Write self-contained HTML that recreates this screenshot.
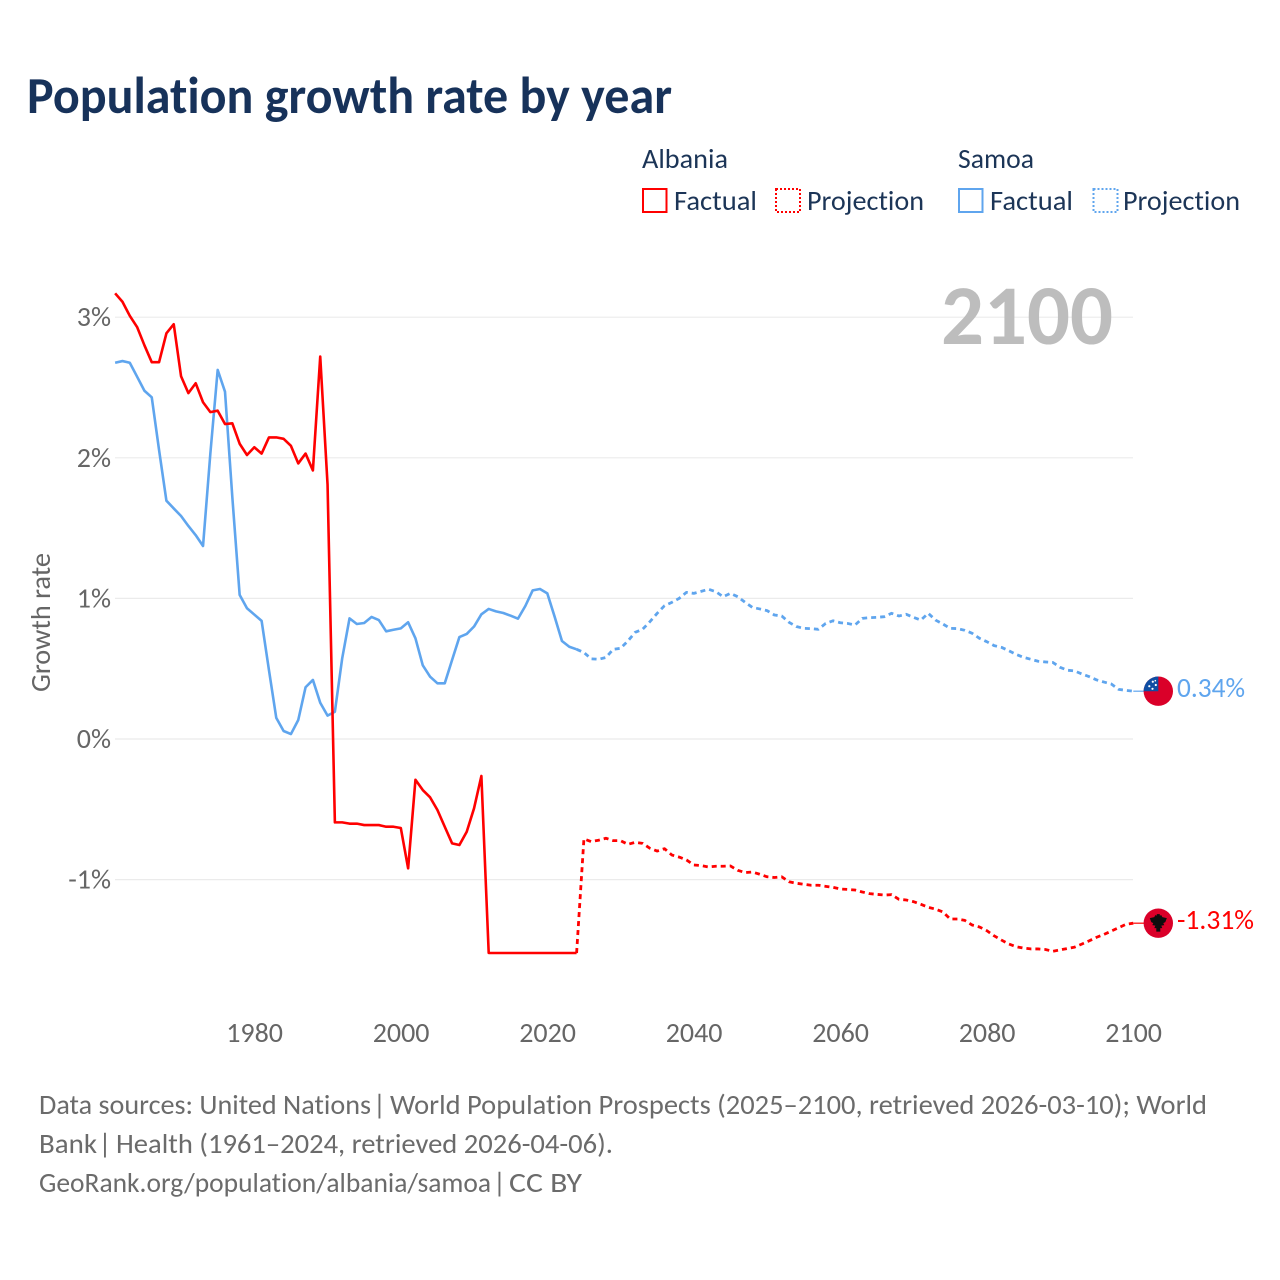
<!DOCTYPE html>
<html lang="en">
<head>
<meta charset="utf-8">
<title>Population growth rate by year</title>
<style>
html,body{margin:0;padding:0;background:#fff;}
svg{display:block;font-family:"Carlito","Lato","Liberation Sans",sans-serif;font-variant-ligatures:none;}
</style>
</head>
<body>
<svg id="chart" xmlns="http://www.w3.org/2000/svg" width="1280" height="1280" viewBox="0 0 1280 1280">
  <rect x="0" y="0" width="1280" height="1280" fill="#ffffff"/>
  <text x="27" y="113" font-size="51.5" font-weight="700" fill="#17325a" textLength="645" lengthAdjust="spacingAndGlyphs">Population growth rate by year</text>

  <g font-size="28" fill="#1c3557">
    <text x="642" y="168" textLength="86" lengthAdjust="spacingAndGlyphs">Albania</text>
    <text x="958" y="168" textLength="76" lengthAdjust="spacingAndGlyphs">Samoa</text>
    <g>
      <rect x="643" y="189" width="23.5" height="23" fill="none" stroke="#ff0000" stroke-width="2"/>
      <text x="674" y="210" textLength="83" lengthAdjust="spacingAndGlyphs">Factual</text>
    </g>
    <g>
      <rect x="776" y="189" width="24" height="23" fill="none" stroke="#ff0000" stroke-width="2" stroke-dasharray="2 2"/>
      <text x="807" y="210" textLength="117" lengthAdjust="spacingAndGlyphs">Projection</text>
    </g>
    <g>
      <rect x="959" y="189" width="23.5" height="23" fill="none" stroke="#5fa5ee" stroke-width="2"/>
      <text x="990" y="210" textLength="83" lengthAdjust="spacingAndGlyphs">Factual</text>
    </g>
    <g>
      <rect x="1093.5" y="189" width="24" height="23" fill="none" stroke="#5fa5ee" stroke-width="2" stroke-dasharray="2 2"/>
      <text x="1123" y="210" textLength="117" lengthAdjust="spacingAndGlyphs">Projection</text>
    </g>
  </g>

  <g id="grid"></g>
  <text x="941" y="344" font-size="85" font-weight="700" fill="#bdbdbd" textLength="172" lengthAdjust="spacingAndGlyphs">2100</text>
  <g id="yLabels" font-size="28" fill="#666666" text-anchor="end"></g>
  <g id="xLabels" font-size="28" fill="#666666" text-anchor="middle"></g>
  <text transform="translate(50 622.5) rotate(-90)" font-size="28" fill="#666666" text-anchor="middle" textLength="139" lengthAdjust="spacingAndGlyphs">Growth rate</text>

  <g id="series"></g>
  <g id="ends"></g>

  <g font-size="28" fill="#6b6b6b">
    <text y="1114"><tspan x="39" textLength="332" lengthAdjust="spacingAndGlyphs">Data sources: United Nations</tspan> <tspan x="373">|</tspan> <tspan x="390" textLength="817" lengthAdjust="spacingAndGlyphs">World Population Prospects (2025–2100, retrieved 2026-03-10); World</tspan></text>
    <text y="1153"><tspan x="39" textLength="58" lengthAdjust="spacingAndGlyphs">Bank</tspan> <tspan x="98.5">|</tspan> <tspan x="116" textLength="497" lengthAdjust="spacingAndGlyphs">Health (1961–2024, retrieved 2026-04-06).</tspan></text>
    <text y="1192"><tspan x="39" textLength="452" lengthAdjust="spacingAndGlyphs">GeoRank.org/population/albania/samoa</tspan> <tspan x="493">|</tspan> <tspan x="509" textLength="73" lengthAdjust="spacingAndGlyphs">CC BY</tspan></text>
  </g>
</svg>
<script>
const firstYear = 1961;
const projectionStartYear = 2025;
const yTicks = [3, 2, 1, 0, -1];
const xTicks = [1980, 2000, 2020, 2040, 2060, 2080, 2100];

const albaniaFactual = [
  3.17,3.11,3.01,2.93,2.80,2.68,2.68,2.885,2.95,2.58,
  2.46,2.53,2.395,2.325,2.335,2.24,2.245,2.10,2.02,2.075,
  2.03,2.145,2.145,2.135,2.085,1.96,2.03,1.91,2.72,1.81,
  -0.593,-0.593,-0.602,-0.602,-0.612,-0.612,-0.612,-0.624,-0.624,-0.633,
  -0.92,-0.29,-0.363,-0.415,-0.505,-0.624,-0.742,-0.754,-0.66,-0.493,
  -0.263,-1.522,-1.522,-1.522,-1.522,-1.522,-1.522,-1.522,-1.522,-1.522,
  -1.522,-1.522,-1.522,-1.522
];
const albaniaProjection = [
  -0.71,-0.73,-0.72,-0.706,-0.723,-0.723,-0.749,-0.735,-0.742,-0.777,
  -0.797,-0.78,-0.825,-0.84,-0.86,-0.896,-0.90,-0.91,-0.905,-0.905,
  -0.903,-0.934,-0.95,-0.946,-0.962,-0.98,-0.985,-0.98,-1.015,-1.026,
  -1.033,-1.04,-1.04,-1.048,-1.055,-1.067,-1.07,-1.074,-1.088,-1.10,
  -1.105,-1.11,-1.107,-1.14,-1.145,-1.157,-1.176,-1.197,-1.21,-1.23,
  -1.28,-1.28,-1.29,-1.323,-1.337,-1.363,-1.40,-1.43,-1.458,-1.477,
  -1.487,-1.493,-1.493,-1.497,-1.51,-1.50,-1.49,-1.48,-1.458,-1.435,
  -1.41,-1.39,-1.366,-1.342,-1.318,-1.31
];
const samoaFactual = [
  2.676,2.688,2.676,2.577,2.477,2.43,2.055,1.695,1.64,1.586,
  1.515,1.45,1.373,2.03,2.625,2.47,1.72,1.025,0.93,0.885,
  0.84,0.49,0.15,0.057,0.035,0.135,0.368,0.42,0.258,0.166,
  0.194,0.574,0.858,0.818,0.825,0.868,0.846,0.766,0.777,0.787,
  0.83,0.716,0.524,0.443,0.396,0.396,0.562,0.725,0.747,0.80,
  0.887,0.925,0.908,0.896,0.877,0.856,0.946,1.057,1.067,1.036,
  0.87,0.697,0.656,0.638
];
const samoaProjection = [
  0.615,0.57,0.567,0.58,0.638,0.645,0.697,0.759,0.78,0.834,
  0.894,0.948,0.972,1.0,1.043,1.036,1.05,1.065,1.048,1.012,
  1.036,1.012,0.972,0.936,0.925,0.913,0.882,0.875,0.83,0.80,
  0.787,0.785,0.78,0.822,0.841,0.827,0.822,0.81,0.858,0.863,
  0.865,0.87,0.894,0.875,0.887,0.865,0.846,0.894,0.846,0.818,
  0.787,0.785,0.773,0.752,0.716,0.692,0.664,0.652,0.628,0.602,
  0.581,0.567,0.553,0.548,0.545,0.51,0.489,0.484,0.462,0.443,
  0.42,0.405,0.391,0.353,0.346,0.34
];

const NS = 'http://www.w3.org/2000/svg';
const RED = '#ff0000';
const BLUE = '#5fa5ee';
const xScale = function (year) { return 254.3 + (year - 1980) * 7.325; };
const yScale = function (pct) { return 739 - pct * 140.6; };

function make(tag, attrs, parent) {
  const el = document.createElementNS(NS, tag);
  Object.keys(attrs).forEach(function (k) { el.setAttribute(k, attrs[k]); });
  parent.appendChild(el);
  return el;
}

function pointsFor(values, startYear) {
  return values.map(function (v, i) {
    return xScale(startYear + i).toFixed(2) + ',' + yScale(v).toFixed(2);
  }).join(' ');
}

const gridG = document.getElementById('grid');
const yLabelG = document.getElementById('yLabels');
yTicks.forEach(function (t) {
  const line = make('line', {x1: 115, x2: 1133, y1: yScale(t), y2: yScale(t), stroke: '#ebebeb', 'stroke-width': 1.2}, gridG);
  
  
  const label = make('text', {x: 111, y: yScale(t) + 9}, yLabelG);
  label.textContent = t + '%';
  
  
});

const xLabelG = document.getElementById('xLabels');
xTicks.forEach(function (t) {
  const label = make('text', {x: xScale(t) + 0.3, y: 1042}, xLabelG);
  label.textContent = String(t);
  
  
});

const seriesG = document.getElementById('series');
const lineStyle = {fill: 'none', 'stroke-width': 2.6, 'stroke-linejoin': 'round'};
const dashStyle = {fill: 'none', 'stroke-width': 2.8, 'stroke-linejoin': 'round', 'stroke-dasharray': '5 4'};

const samoaSolid = make('polyline', Object.assign({points: pointsFor(samoaFactual, firstYear), stroke: BLUE}, lineStyle), seriesG);



const samoaDash = make('polyline', Object.assign({points: pointsFor([samoaFactual[samoaFactual.length - 1]].concat(samoaProjection), projectionStartYear - 1), stroke: BLUE}, dashStyle), seriesG);



const albaniaSolid = make('polyline', Object.assign({points: pointsFor(albaniaFactual, firstYear), stroke: RED}, lineStyle), seriesG);



const albaniaDash = make('polyline', Object.assign({points: pointsFor([albaniaFactual[albaniaFactual.length - 1]].concat(albaniaProjection), projectionStartYear - 1), stroke: RED}, dashStyle), seriesG);



const endsG = document.getElementById('ends');
const endX = xScale(2100);
const flagX = endX + 25;
const samoaEnd = samoaProjection[samoaProjection.length - 1];
const albaniaEnd = albaniaProjection[albaniaProjection.length - 1];
const samoaY = yScale(samoaEnd);
const albaniaY = yScale(albaniaEnd);

const samoaLeader = make('line', {x1: endX, x2: flagX - 14, y1: samoaY, y2: samoaY, stroke: BLUE, 'stroke-width': 1.2}, endsG);



const albaniaLeader = make('line', {x1: endX, x2: flagX - 14, y1: albaniaY, y2: albaniaY, stroke: RED, 'stroke-width': 1.2}, endsG);



const samoaFlag = make('g', {transform: 'translate(' + flagX + ' ' + samoaY + ')'}, endsG);


make('circle', {cx: 0, cy: 0, r: 14.7, fill: '#da0029'}, samoaFlag);
make('path', {d: 'M0,-14.7 A14.7,14.7 0 0 0 -14.7,0 L0,0 Z', fill: '#0f4ea3'}, samoaFlag);
make('circle', {cx: -5.5, cy: -9.5, r: 1.1, fill: '#ffffff'}, samoaFlag);
make('circle', {cx: -2.5, cy: -6.2, r: 1.1, fill: '#ffffff'}, samoaFlag);
make('circle', {cx: -9, cy: -5, r: 1.1, fill: '#ffffff'}, samoaFlag);
make('circle', {cx: -5.8, cy: -2.4, r: 1.1, fill: '#ffffff'}, samoaFlag);
make('circle', {cx: -3, cy: -10.5, r: 0.8, fill: '#ffffff'}, samoaFlag);

const albaniaFlag = make('g', {transform: 'translate(' + flagX + ' ' + albaniaY + ')'}, endsG);


make('circle', {cx: 0, cy: 0, r: 14.7, fill: '#da0029'}, albaniaFlag);
make('path', {d: 'M-8.5,-5 L-4,-6 L-3,-8 L-1.5,-7.5 L-1.5,-9 L1.5,-9 L1.5,-7.5 L3,-8 L4,-6 L8.5,-5 L7,-1 L5,0 L6,2 L3,2.5 L4,5 L2,5 L2,8.5 L-2,8.5 L-2,5 L-4,5 L-3,2.5 L-6,2 L-5,0 L-7,-1 Z', fill: '#0d0d0d'}, albaniaFlag);

const samoaLabel = make('text', {x: 1177, y: 697, 'font-size': 28, fill: BLUE, textLength: 68, lengthAdjust: 'spacingAndGlyphs'}, endsG);
samoaLabel.textContent = samoaEnd.toFixed(2) + '%';



const albaniaLabel = make('text', {x: 1177, y: 929, 'font-size': 28, fill: RED, textLength: 77, lengthAdjust: 'spacingAndGlyphs'}, endsG);
albaniaLabel.textContent = albaniaEnd.toFixed(2) + '%';


</script>
</body>
</html>
